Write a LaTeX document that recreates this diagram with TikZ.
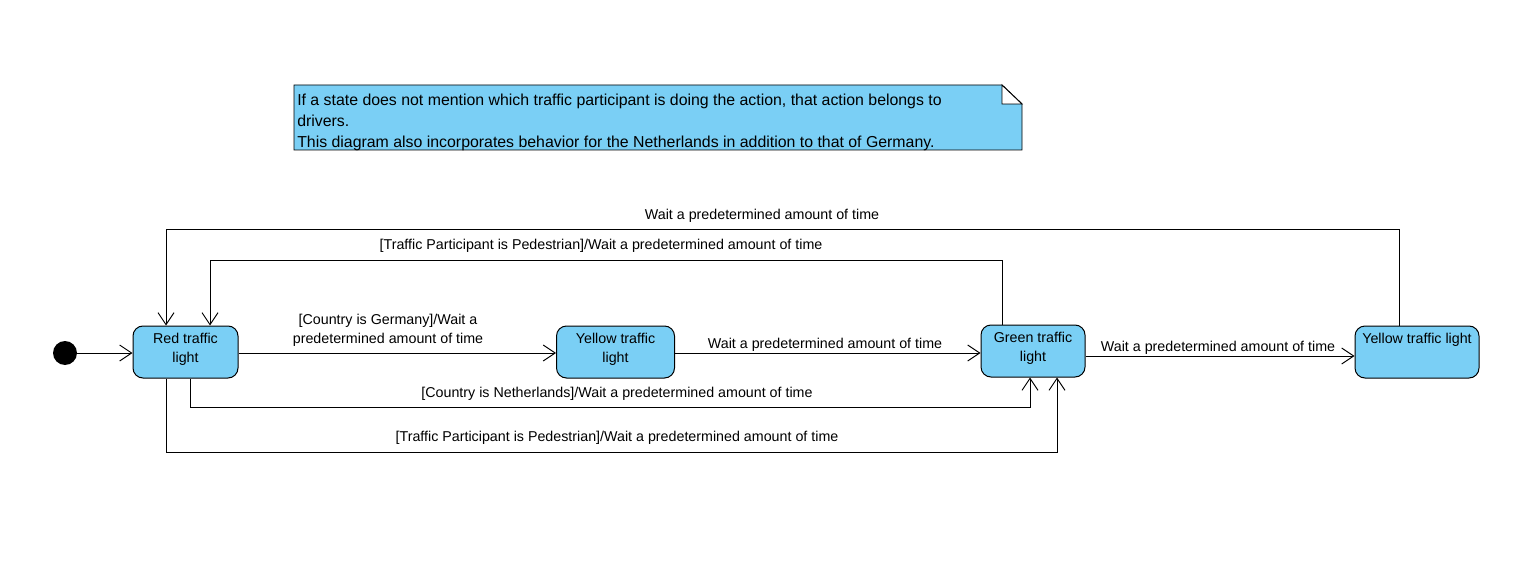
\documentclass[tikz,border=0pt]{standalone}
\usepackage{fontspec}
\setmainfont{Liberation Sans}
\usetikzlibrary{arrows.meta}
\definecolor{stfill}{HTML}{7ACFF5}
\begin{document}
\begin{tikzpicture}[x=0.75pt,y=-0.75pt,
  state/.style={draw, fill=stfill, rounded corners=7.5pt, line width=0.75pt, inner sep=0pt, minimum height=39pt},
  sttext/.style={inner sep=0pt, align=center, font=\fontsize{10.7}{14.25}\selectfont},
  lbl/.style={inner sep=0pt, align=center, font=\fontsize{10.7}{14.25}\selectfont},
  trans/.style={draw, line width=0.7pt, -{Straight Barb[length=9pt,width=12pt,line width=0.7pt]}}]
\useasboundingbox (0,0) rectangle (1526,570);
% note
\path[draw, fill=stfill, line width=0.7pt] (294,85) -- (1002,85) -- (1022,104) -- (1022,150) -- (294,150) -- cycle;
\path[draw, fill=white, line width=0.7pt] (1002,85) -- (1002,104) -- (1022,104) -- cycle;
\node[inner sep=0pt, anchor=north west, align=left, font=\fontsize{11.9}{15.75}\selectfont] (notetxt) at (297,94)
 {If a state does not mention which traffic participant is doing the action, that action belongs to\\drivers.\\This diagram also incorporates behavior for the Netherlands in addition to that of Germany.};
% states
\node[circle, fill=black, inner sep=0pt, minimum size=18pt] (init) at (65,353) {};
\node[state, minimum width=78.75pt] (red) at (185.5,352) {};
\node[sttext] (redtxt) at (185.5,349.5) {Red traffic\\light};
\node[state, minimum width=88.5pt] (yel1) at (615.5,352) {};
\node[sttext] (yel1txt) at (615.5,349.5) {Yellow traffic\\light};
\node[state, minimum width=78pt] (green) at (1033,351) {};
\node[sttext] (greentxt) at (1033,348.5) {Green traffic\\light};
\node[state, minimum width=93pt] (yel2) at (1417,352) {};
\node[sttext] (yel2txt) at (1417,340) {Yellow traffic light};
% transitions
\draw[trans] (init) -- (red.west |- 0,353);
\draw[trans] (red.east |- 0,353) -- (yel1.west |- 0,353);
\node[lbl] (l1) at (388,330) {[Country is Germany]/Wait a\\predetermined amount of time};
\draw[trans] (yel1.east |- 0,353) -- (green.west |- 0,353);
\node[lbl] (l2) at (825,345) {Wait a predetermined amount of time};
\draw[trans] (green.east |- 0,356) -- (yel2.west |- 0,356);
\node[lbl] (l3) at (1218,348) {Wait a predetermined amount of time};
\draw[trans] (1399,0 |- yel2.north) -- (1399,229) -- (166,229) -- (166,0 |- red.north);
\node[lbl] (l4) at (762,216) {Wait a predetermined amount of time};
\draw[trans] (1002,0 |- green.north) -- (1002,260) -- (210,260) -- (210,0 |- red.north);
\node[lbl] (l5) at (601,246) {[Traffic Participant is Pedestrian]/Wait a predetermined amount of time};
\draw[trans] (190,0 |- red.south) -- (190,407) -- (1030,407) -- (1030,0 |- green.south);
\node[lbl] (l6) at (617,394) {[Country is Netherlands]/Wait a predetermined amount of time};
\draw[trans] (166,0 |- red.south) -- (166,452) -- (1057,452) -- (1057,0 |- green.south);
\node[lbl] (l7) at (617,438) {[Traffic Participant is Pedestrian]/Wait a predetermined amount of time};
\end{tikzpicture}
\end{document}
